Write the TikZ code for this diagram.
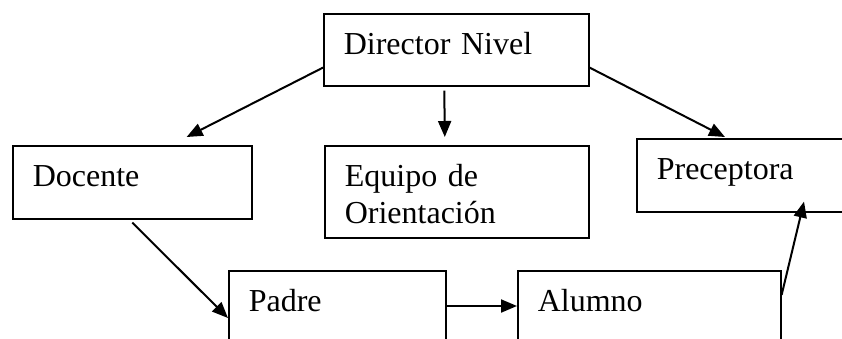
\documentclass[tikz,border=0pt]{standalone}
\usepackage{fontspec}
\setmainfont{Liberation Serif}
\usetikzlibrary{arrows.meta, calc}

\tikzset{
    box/.style={draw, line width=1.6pt, anchor=north west, align=left,
        inner xsep=20pt, inner ysep=0pt, text height=41pt,
        font=\fontsize{32}{37}\selectfont},
    link/.style={-{Triangle[length=16pt,width=13pt]}, line width=2pt}
}

\begin{document}
\begin{tikzpicture}[x=1pt, y=-1pt]
    \useasboundingbox (0,0) rectangle (842,338);

    % boxes
    \node[box, text width=225pt, text depth=31pt] (dir) at (323,13) {Director Nivel};
    \node[box, text width=199pt, text depth=32pt] (docente) at (12,145) {Docente};
    \node[box, text width=224pt, text depth=51pt] (equipo) at (324,145) {Equipo de\\Orientación};
    \node[box, text width=190pt, text depth=32pt] (prec) at (636,138) {Preceptora};
    \node[box, text width=177pt, text depth=60pt] (padre) at (228,270) {Padre};
    \node[box, text width=223pt, text depth=60pt] (alumno) at (517,270) {Alumno};

    % arrows from the director
    \draw[link] ($(dir.south west)+(0,-19)$) -- ($(docente.north east)+(-66,-8)$);
    \draw[link] ($(dir.south)+(-12,4)$) -- ($(equipo.north)+(-12,-8)$);
    \draw[link] ($(dir.south east)+(0,-19)$) -- ($(prec.north west)+(89,-1)$);

    % lower arrows
    \draw[link] ($(docente.south)+(0,3)$) -- ($(padre.north west)+(0,48)$);
    \draw[link] ($(padre.north east)+(0,36)$) -- ($(alumno.north west)+(0,36)$);
    \draw[link] ($(alumno.north east)+(0,25)$) -- ($(prec.south west)+(168,-11)$);
\end{tikzpicture}
\end{document}
